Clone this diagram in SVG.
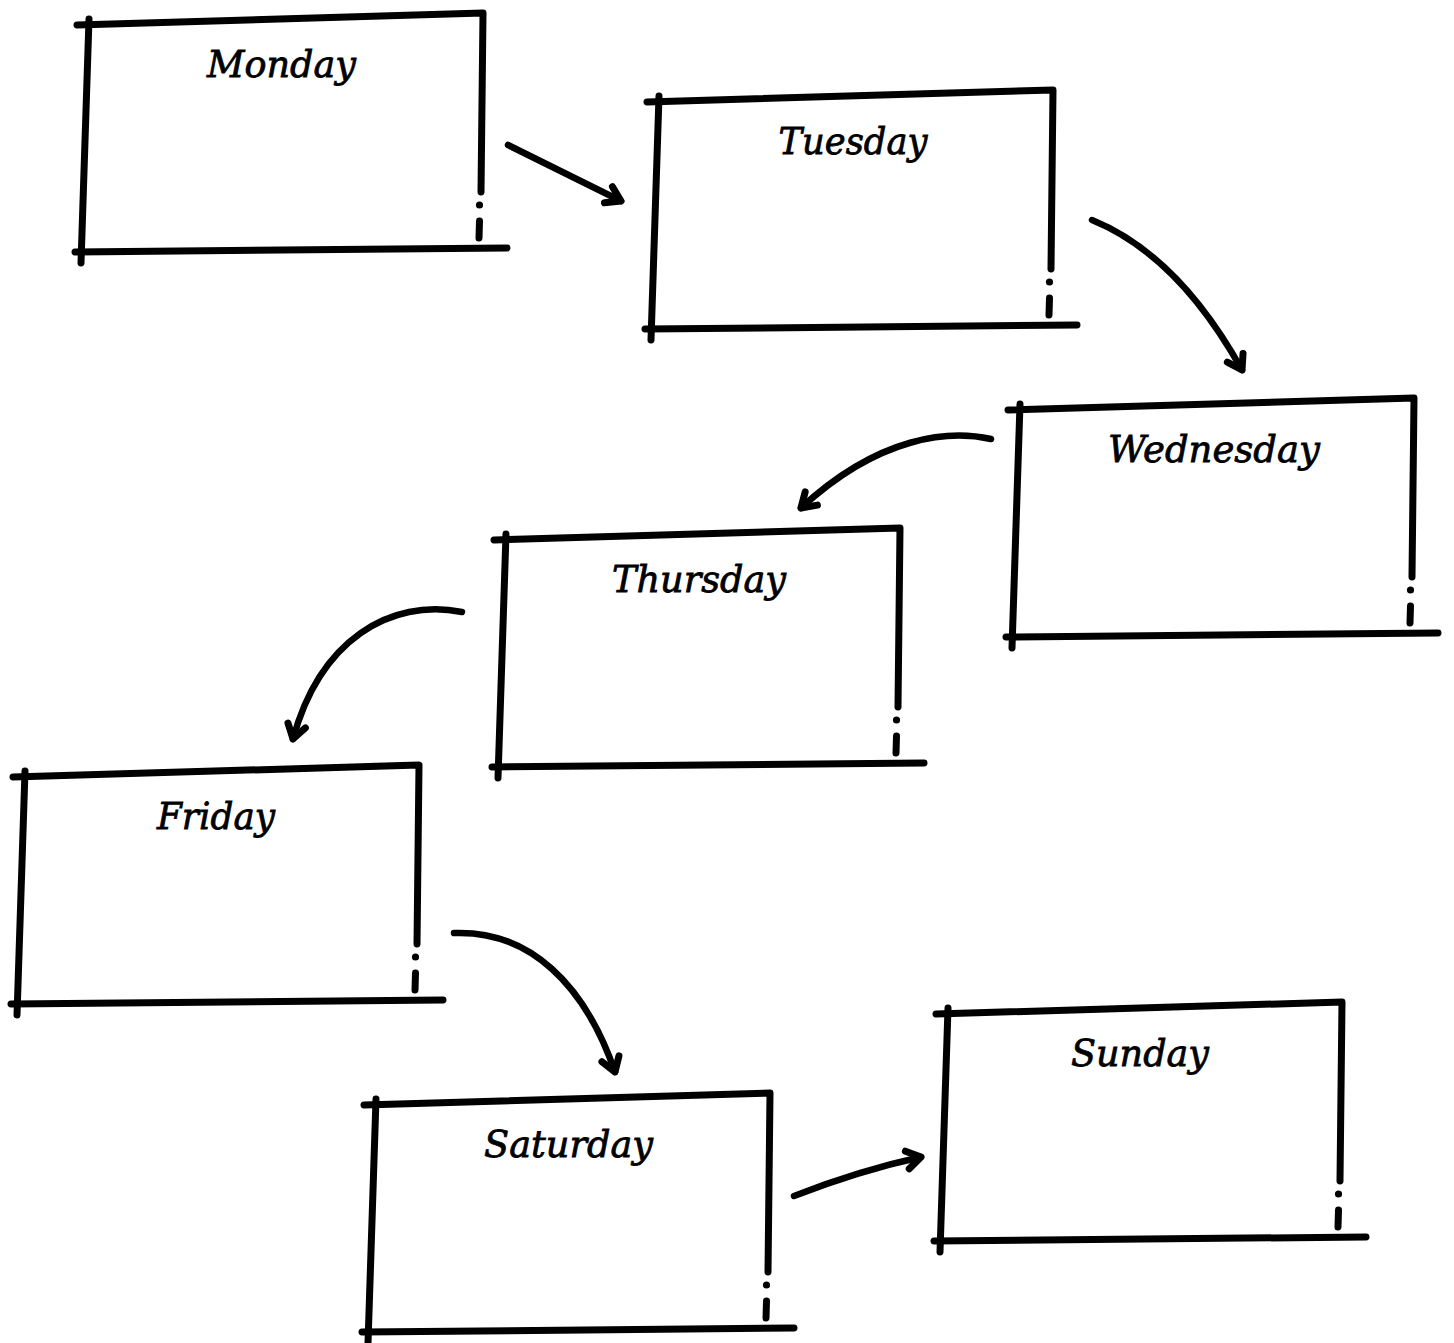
<svg xmlns="http://www.w3.org/2000/svg" width="1454" height="1343" viewBox="0 0 1454 1343">
<style>
.b{fill:none;stroke:#000;stroke-width:7;stroke-linecap:round;stroke-linejoin:round}
.d{fill:#000}
.t{font-family:"DejaVu Serif","Liberation Serif",serif;font-style:italic;font-size:38px;fill:#000;stroke:#000;stroke-width:0.8;text-anchor:middle}
.c{fill:none;stroke:#000;stroke-width:6.5;stroke-linecap:round;marker-end:url(#ah)}
</style>
<defs>
<marker id="ah" markerUnits="userSpaceOnUse" orient="auto" markerWidth="40" markerHeight="40" refX="0" refY="0" viewBox="-20 -20 40 40" overflow="visible">
<path d="M-14,-9 L0,0 L-14,9" fill="none" stroke="#000" stroke-width="7" stroke-linecap="round" stroke-linejoin="round"/>
</marker>
<g id="box">
<path class="b" d="M77,25 L483,13 L481,192"/>
<circle class="d" cx="479.5" cy="205" r="3.6"/>
<path class="b" d="M479.5,221 L479,238"/>
<path class="b" d="M75,252 L507,248"/>
<path class="b" d="M89,19 L81,263"/>
</g>
</defs>
<rect width="1454" height="1343" fill="#fff"/>
<g id="monday" transform="translate(0,0)">
<use href="#box"/>
<text class="t" x="281.5" y="77" textLength="149" lengthAdjust="spacingAndGlyphs">Monday</text>
</g>
<g id="tuesday" transform="translate(570,77)">
<use href="#box"/>
<text class="t" x="283" y="77" textLength="149" lengthAdjust="spacingAndGlyphs">Tuesday</text>
</g>
<g id="wednesday" transform="translate(931,385)">
<use href="#box"/>
<text class="t" x="283" y="77" textLength="212" lengthAdjust="spacingAndGlyphs">Wednesday</text>
</g>
<g id="thursday" transform="translate(417,515)">
<use href="#box"/>
<text class="t" x="282" y="77" textLength="174" lengthAdjust="spacingAndGlyphs">Thursday</text>
</g>
<g id="friday" transform="translate(-64,752)">
<use href="#box"/>
<text class="t" x="280" y="77" textLength="118" lengthAdjust="spacingAndGlyphs">Friday</text>
</g>
<g id="saturday" transform="translate(287,1080)">
<use href="#box"/>
<text class="t" x="281.5" y="77" textLength="169" lengthAdjust="spacingAndGlyphs">Saturday</text>
</g>
<g id="sunday" transform="translate(859,989)">
<use href="#box"/>
<text class="t" x="281" y="77" textLength="138" lengthAdjust="spacingAndGlyphs">Sunday</text>
</g>
<g id="connectors">
<path class="c" d="M508,145 L621,201"/>
<path class="c" d="M1092,220 Q1178,255 1242,370"/>
<path class="c" d="M991,439 C950,430 880,435 801,508"/>
<path class="c" d="M462,612 C390,598 320,640 293,739"/>
<path class="c" d="M454,933 C530,930 585,985 615,1072"/>
<path class="c" d="M794,1196 C840,1178 880,1166 921,1157"/>
</g>
</svg>
